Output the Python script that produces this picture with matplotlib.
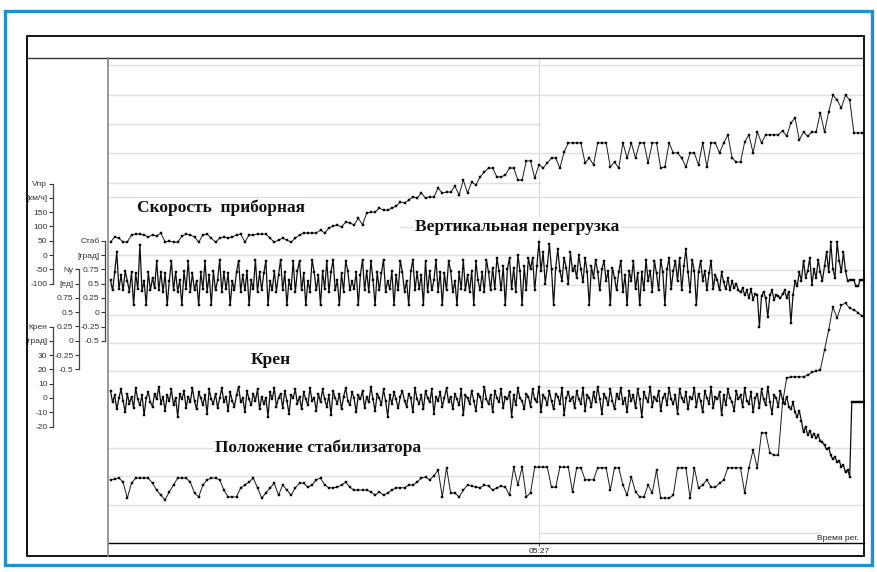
import numpy as np
import matplotlib
matplotlib.use("Agg")
import matplotlib.pyplot as plt
from matplotlib.lines import Line2D
from matplotlib.patches import Rectangle

plt.rcParams['font.family'] = ['Liberation Sans', 'DejaVu Sans']

# ---------------- recorded parameters ----------------
# time of the first sample, seconds from the start of the record
T_START = 225.0
TIME_TICKS = [327]          # 05:27

# indicated airspeed, km/h (1 sample per second)
speed = [
    45, 63, 59, 45, 45, 70, 73, 73, 70, 63, 70, 66, 77, 45, 49, 45, 45, 66, 73, 70,
    63, 45, 70, 73, 59, 45, 59, 63, 59, 63, 70, 73, 45, 70, 70, 73, 73, 73, 59, 45,
    52, 59, 52, 45, 59, 70, 77, 77, 77, 77, 87, 77, 94, 101, 105, 98, 115, 112, 105, 129,
    105, 147, 150, 150, 164, 157, 157, 164, 171, 185, 182, 192, 203, 199, 217, 199, 203, 203, 234, 217,
    220, 220, 241, 210, 262, 217, 255, 245, 273, 290, 304, 304, 273, 273, 280, 304, 304, 262, 262, 329,
    329, 269, 315, 304, 322, 339, 339, 304, 360, 392, 392, 392, 392, 322, 339, 315, 392, 392, 392, 308,
    325, 304, 392, 339, 392, 339, 392, 392, 322, 392, 392, 304, 308, 392, 357, 357, 339, 308, 357, 357,
    315, 392, 308, 392, 392, 357, 392, 420, 339, 325, 325, 395, 420, 357, 430, 392, 420, 420, 420, 420,
    434, 416, 462, 479, 402, 430, 416, 430, 430, 497, 430, 500, 559, 542, 514, 559, 542, 427, 427, 427,
]

# stabilizer position, deg (1 sample per second)
stab = [
    -2.93, -2.92, -2.90, -2.97, -3.25, -2.99, -2.90, -2.90, -2.90, -2.90, -2.99, -3.11, -3.20, -3.28, -3.14, -3.02, -2.90, -2.90, -2.90, -2.97,
    -3.16, -3.23, -3.02, -2.93, -2.90, -2.90, -2.93, -3.11, -3.23, -3.23, -3.23, -3.07, -3.02, -2.97, -2.90, -3.07, -3.25, -3.16, -3.07, -2.99,
    -3.20, -3.02, -3.11, -3.20, -3.07, -2.99, -2.99, -3.06, -3.02, -2.93, -2.90, -3.02, -3.07, -3.07, -3.06, -3.02, -2.97, -3.06, -3.11, -3.11,
    -3.11, -3.11, -3.14, -3.20, -3.14, -3.20, -3.16, -3.11, -3.07, -3.07, -3.07, -3.02, -3.02, -2.97, -2.90, -2.88, -2.93, -2.86, -2.76, -3.23,
    -2.72, -3.16, -3.16, -3.23, -3.11, -3.02, -3.04, -3.06, -3.07, -3.02, -3.04, -3.11, -3.07, -3.04, -3.06, -3.20, -2.71, -3.02, -2.71, -3.23,
    -3.16, -2.71, -2.71, -2.71, -2.71, -3.06, -3.06, -2.71, -2.71, -2.71, -3.14, -2.72, -2.72, -2.93, -2.93, -2.93, -2.72, -2.72, -2.72, -3.11,
    -2.72, -2.72, -3.02, -3.20, -2.88, -3.14, -3.23, -3.23, -3.02, -3.16, -2.76, -3.25, -3.25, -3.25, -3.20, -2.72, -2.72, -2.72, -3.25, -2.72,
    -3.07, -3.02, -2.93, -3.06, -3.06, -2.99, -2.93, -2.72, -2.72, -2.72, -2.72, -3.16, -2.72, -2.41, -2.72, -2.11, -2.11, -2.46, -2.50, -2.50,
    -1.59, -1.15, -1.13, -1.13, -1.13, -1.13, -1.10, -1.05, -1.03, -1.01, -0.66, -0.31, 0.09, -0.10, 0.12, 0.16, 0.07, 0.04, -0.01, -0.07,
]

# vertical load factor Ny (2 samples per second)
ny = [
    1.06, 0.88, 1.20, 1.55, 0.90, 1.15, 0.88, 1.22, 1.05, 0.86, 1.20, 0.62, 1.18, 0.90, 1.68, 0.87, 1.05, 0.62, 1.20, 0.88,
    1.10, 0.92, 1.40, 0.88, 1.20, 0.85, 1.18, 0.62, 1.05, 1.40, 0.88, 1.20, 0.86, 1.06, 0.62, 1.22, 0.90, 1.40, 0.85, 1.18,
    0.88, 1.05, 0.62, 1.20, 0.90, 1.40, 0.86, 1.15, 0.62, 1.22, 0.88, 1.06, 1.42, 0.85, 1.20, 0.90, 1.18, 0.62, 1.05, 0.88,
    1.20, 1.40, 0.86, 1.15, 0.88, 1.22, 0.62, 1.06, 0.90, 1.42, 0.85, 1.20, 0.88, 1.18, 1.40, 0.62, 1.05, 0.88, 1.22, 0.86,
    1.15, 1.42, 0.88, 1.20, 0.62, 1.06, 0.90, 1.40, 0.85, 1.22, 1.40, 0.88, 1.18, 0.62, 1.05, 0.86, 1.42, 1.20, 0.88, 1.15,
    0.62, 1.22, 0.90, 1.40, 0.85, 1.20, 1.42, 0.88, 1.06, 0.62, 1.18, 0.86, 1.40, 1.22, 0.88, 1.05, 0.90, 1.20, 0.62, 1.15,
    1.42, 0.88, 1.22, 0.85, 1.40, 1.06, 0.62, 1.20, 0.88, 1.18, 1.42, 0.86, 1.05, 0.90, 1.22, 0.62, 1.15, 0.88, 1.40, 1.20,
    0.86, 1.05, 0.62, 1.22, 1.42, 0.88, 1.20, 0.90, 1.15, 0.62, 1.40, 0.85, 1.22, 0.88, 1.06, 1.42, 0.86, 1.20, 0.62, 1.18,
    0.88, 1.40, 1.22, 0.85, 1.05, 0.62, 1.20, 0.90, 1.42, 0.88, 1.15, 0.86, 1.22, 0.62, 1.40, 1.06, 0.88, 1.20, 0.85, 1.42,
    1.20, 0.88, 1.28, 0.90, 1.45, 1.22, 0.88, 1.30, 0.62, 1.25, 1.45, 0.90, 1.28, 0.85, 1.50, 1.22, 0.62, 1.30, 0.88, 1.45,
    1.25, 1.45, 0.88, 1.30, 1.72, 1.22, 1.55, 1.00, 1.30, 1.70, 1.25, 0.62, 1.28, 1.60, 1.22, 1.05, 1.45, 1.28, 1.00, 1.55,
    1.22, 1.30, 1.10, 1.50, 1.25, 1.02, 1.45, 1.20, 0.62, 1.30, 1.10, 1.42, 1.20, 0.88, 1.25, 1.40, 1.05, 1.22, 0.62, 1.28,
    1.10, 0.88, 1.20, 1.40, 0.85, 1.15, 0.62, 1.22, 1.05, 1.40, 0.90, 1.18, 0.62, 1.20, 0.88, 1.42, 1.05, 1.22, 0.86, 1.40,
    1.18, 0.88, 1.42, 1.20, 0.62, 1.25, 1.45, 0.90, 1.22, 1.40, 1.05, 1.45, 0.88, 1.30, 1.60, 1.20, 0.86, 1.42, 1.22, 0.62,
    1.20, 1.40, 1.05, 1.22, 0.88, 1.18, 1.40, 0.90, 1.15, 1.06, 0.88, 1.20, 1.02, 0.90, 1.10, 0.88, 1.05, 0.92, 1.00, 0.88,
    0.85, 0.92, 0.80, 0.88, 0.75, 0.90, 0.72, 0.82, 0.80, 0.24, 0.78, 0.86, 0.74, 0.42, 0.80, 0.88, 0.72, 0.80, 0.78, 0.74,
    0.82, 0.88, 0.75, 0.86, 0.31, 0.80, 1.05, 0.95, 1.20, 1.05, 1.40, 1.10, 1.22, 1.45, 0.98, 1.25, 1.10, 1.42, 1.20, 1.05,
    1.30, 1.55, 1.20, 1.72, 1.25, 1.10, 1.72, 1.40, 1.20, 1.55, 1.22, 1.05, 1.06, 1.06, 1.06, 0.95, 0.95, 1.06, 1.06, 1.06,
]

# roll angle, deg (2 samples per second)
roll = [
    5, -3, 2, -8, 0, 6, -2, -10, 3, -4, 1, -7, 7, -1, -5, 2, -12, 0, 4, -3,
    -6, 3, -1, 8, -4, 1, -9, 2, -2, 6, -5, 0, -13, 3, -1, 5, -7, 1, -3, 7,
    -2, -8, 4, 0, -5, 2, -11, 6, -1, -4, 3, -7, 0, 7, -3, 1, -9, 4, -2, -6,
    2, 8, -3, 0, -10, 5, -1, -5, 3, -2, 6, -8, 1, -4, 0, -13, 4, -1, 7, -6,
    0, 3, -7, 5, -2, -11, 2, 0, 6, -4, 1, -8, 4, -1, -5, 7, -2, 0, -9, 3,
    -3, 6, -1, -6, 2, -12, 5, 0, -4, 3, -8, 1, 7, -2, -5, 4, 0, -10, 2, -1,
    5, -7, 1, -3, 8, -1, -9, 3, 0, -5, 6, -2, -13, 2, -4, 4, -1, -7, 1, 5,
    -2, -6, 3, 0, -10, 7, -1, -4, 2, -8, 5, 0, -3, 6, -11, 1, -2, 4, -6, 0,
    7, -3, 1, -8, 3, -1, -5, 6, -12, 2, 0, -4, 5, -2, -9, 3, 1, -6, 8, -1,
    -4, 2, -10, 5, 0, -3, 6, -7, 1, -1, 4, -13, 2, -5, 7, 0, -2, -8, 3, 1,
    -6, 6, -1, -3, 8, -10, 2, 0, -5, 5, -2, -8, 3, 1, -4, 7, -12, 0, 4, -2,
    1, -7, 5, -1, -4, 7, -9, 2, 0, -6, 4, -3, 8, -1, -11, 3, 0, -5, 6, -2,
    -8, 3, -1, 7, -4, 0, -10, 5, -2, 2, -7, 6, -1, -13, 4, 0, -3, 8, -6, 1,
    -2, 5, -9, 0, 3, -5, 7, -1, -4, 2, -11, 6, 0, -3, 4, -8, 1, -1, 7, -6,
    3, -2, -10, 5, 0, -4, 8, -7, 1, -1, 4, -12, 2, -5, 6, 0, -3, -9, 5, -1,
    2, -6, 7, -2, -4, 4, -10, 0, 3, -7, 6, -1, -5, 8, -3, -11, 2, 0, -6, 5,
    -1, -4, 1, -6, -8, -3, -10, -13, -9, -16, -24, -20, -26, -23, -27, -25, -28, -26, -30, -31,
    -33, -36, -35, -40, -43, -41, -45, -44, -48, -47, -52, -50, -55, -2.8, -2.8, -2.8, -2.8, -2.8, -2.8, -2.8,
]

# ---------------- layout (pixels of the 878x572 canvas) ----------------
W, H = 878, 572
fig = plt.figure(figsize=(W / 100, H / 100), dpi=100)
fig.patch.set_facecolor('white')


def fx(px):
    return px / W


def fy(py):
    return 1 - py / H


X0, X1, Y0, Y1 = 108, 864, 58, 543      # plotting field
PX_PER_S = 4.2
T_LEFT = T_START - (110.5 - X0) / PX_PER_S
T_RIGHT = T_LEFT + (X1 - X0) / PX_PER_S
rect = [fx(X0), fy(Y1), fx(X1) - fx(X0), fy(Y0) - fy(Y1)]

# scale rows shared by the stacked axes on the left
ROW0, PITCH = 183.5, 14.3


def px_to_val(py, ref_val, ref_row, per_row):
    return ref_val + (ROW0 + ref_row * PITCH - py) / PITCH * per_row


# background: grid and time axis
ax_bg = fig.add_axes(rect)
ax_bg.set_xlim(T_LEFT, T_RIGHT)
ax_bg.set_ylim(Y1, Y0)
ax_bg.set_yticks([])
for s in ['top', 'right', 'left']:
    ax_bg.spines[s].set_visible(False)
ax_bg.spines['bottom'].set_color('black')
ax_bg.spines['bottom'].set_linewidth(1.0)
ax_bg.set_xticks(TIME_TICKS)
ax_bg.set_xticklabels([f"{t // 60:02d}:{t % 60:02d}" for t in TIME_TICKS])
ax_bg.tick_params(axis='x', direction='out', length=2, width=0.6, labelsize=6, pad=1.5, colors='#222')

grid_rows = [
    (65, 108, 864), (95, 108, 864), (124, 108, 540), (153, 108, 864), (183, 108, 540),
    (197, 108, 864), (227, 400, 864), (255, 108, 540), (270, 540, 864),
    (285, 108, 864), (315, 108, 864), (343, 108, 864), (371, 108, 864),
    (387, 540, 760), (417, 540, 640), (448, 108, 864), (476, 108, 540), (505, 108, 864),
    (533, 540, 820),
]
for gy, gx0, gx1 in grid_rows:
    ax_bg.axhline(gy, xmin=(gx0 - X0) / (X1 - X0), xmax=(gx1 - X0) / (X1 - X0),
                  color='#e0e0e0', lw=1.0, zorder=0)
ax_bg.axvline(TIME_TICKS[0], color='#dadada', lw=0.8, zorder=0)


def make_axis(ref_val, ref_row, per_row, spine_px, first_row, labels):
    ax = fig.add_axes(rect, facecolor='none')
    ax.set_xlim(T_LEFT, T_RIGHT)
    ax.set_ylim(px_to_val(Y1, ref_val, ref_row, per_row), px_to_val(Y0, ref_val, ref_row, per_row))
    for s in ['top', 'right', 'bottom']:
        ax.spines[s].set_visible(False)
    ax.spines['left'].set_position(('axes', (spine_px - X0) / (X1 - X0)))
    ax.spines['left'].set_color('#444')
    ax.spines['left'].set_linewidth(0.9)
    rows = np.arange(first_row, first_row + len(labels))
    ticks = ref_val + (ref_row - rows) * per_row
    ax.spines['left'].set_bounds(ticks.min(), ticks.max())
    ax.set_yticks(ticks)
    ax.set_yticklabels(labels)
    ax.tick_params(axis='y', direction='out', length=3, width=0.8, colors='#333',
                   labelsize=6, pad=1)
    ax.set_xticks([])
    return ax


ax_v = make_axis(50, 4, 50, 53, 0, ["Vпр", "[км/ч]", "150", "100", "50", "0", "-50", "-100"])
ax_s = make_axis(0, 9, 0.25, 105, 4, ["Стаб", "[град]", "0.75", "0.5", "0.25", "0", "-0.25", "-0.5"])
ax_n = make_axis(0.75, 8, 0.25, 79, 6, ["Ny", "[ед]", "0.75", "0.5", "0.25", "0", "-0.25", "-0.5"])
ax_r = make_axis(0, 15, 10, 53, 10, ["Крен", "[град]", "30", "20", "10", "0", "-10", "-20"])

t1 = T_START + np.arange(len(speed))
t2 = T_START + 0.5 * np.arange(len(ny))

slow = dict(color='#1a1a1a', lw=0.7, marker='s', ms=1.6, mfc='black', mec='black', mew=0.3)
fast = dict(color='#0d0d0d', lw=0.9, marker='s', ms=1.7, mfc='black', mec='black', mew=0.3)
ax_v.plot(t1, speed, **slow)
ax_s.plot(t1, stab, **slow)
ax_n.plot(t2, ny, **fast)
ax_r.plot(t2, roll, **fast)

# series captions
cap = dict(fontfamily=['Liberation Serif', 'DejaVu Serif'], fontweight='bold', fontsize=12.5,
           color='#111', va='center')
box = dict(boxstyle='square,pad=0.1', fc='white', ec='none')
fig.text(fx(137), fy(208), "Скорость  приборная", ha='left', bbox=box, **cap)
fig.text(fx(415), fy(227), "Вертикальная перегрузка", ha='left', bbox=box, **cap)
fig.text(fx(271), fy(360), "Крен", ha='center', bbox=box, **cap)
fig.text(fx(215), fy(448), "Положение стабилизатора", ha='left', bbox=box, **cap)
fig.text(fx(859), fy(538), "Время рег.", ha='right', va='center', fontsize=6, color='#222')

# outer frames
fig.add_artist(Rectangle((fx(5), fy(565)), fx(872) - fx(5), fy(11) - fy(565),
                         transform=fig.transFigure, fill=False, ec='#1f8fd6', lw=2.4))
fig.add_artist(Rectangle((fx(27), fy(556)), fx(864) - fx(27), fy(36) - fy(556),
                         transform=fig.transFigure, fill=False, ec='black', lw=1.3))
fig.add_artist(Line2D([fx(27), fx(864)], [fy(58), fy(58)], transform=fig.transFigure,
                      color='#333', lw=1.0))
fig.add_artist(Line2D([fx(108), fx(108)], [fy(58), fy(556)], transform=fig.transFigure,
                      color='#888', lw=1.2))

fig.savefig("out.png", dpi=100)
